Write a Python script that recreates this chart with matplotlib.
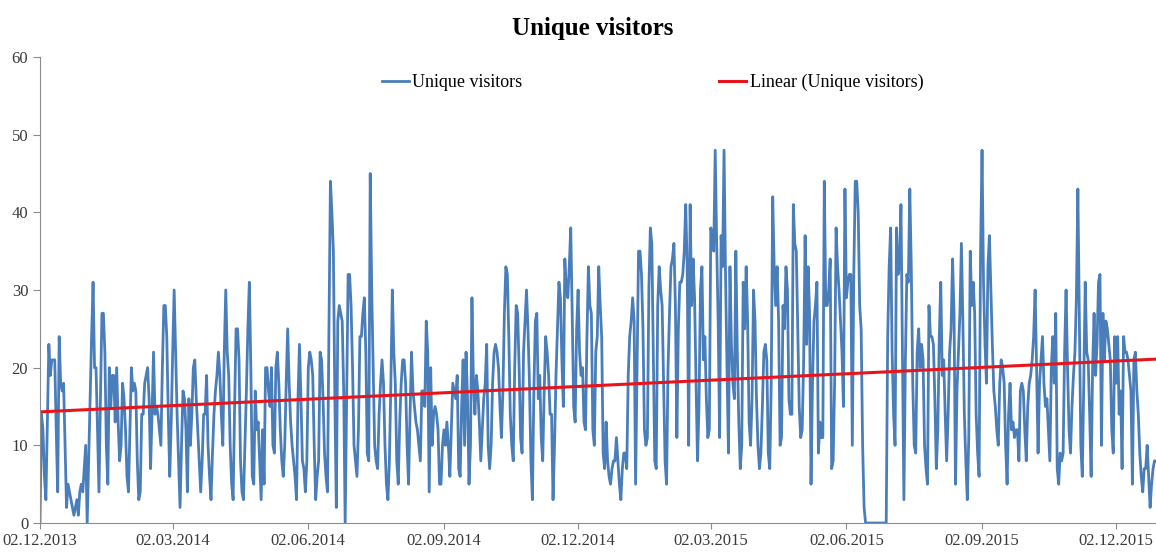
import numpy as np
import pandas as pd
import matplotlib
matplotlib.use("Agg")
import matplotlib.pyplot as plt
import matplotlib.dates as mdates

# daily unique visitors, starting 02.12.2013 (one row = one week)
start = "2013-12-02"
visitors = [
    0, 14, 12, 6, 3, 13, 23,
    19, 21, 21, 21, 12, 4, 24,
    18, 17, 18, 10, 2, 5, 4,
    3, 2, 1, 2, 3, 1, 4,
    5, 4, 7, 10, 0, 8, 16,
    24, 31, 20, 20, 12, 4, 16,
    27, 27, 22, 10, 5, 20, 15,
    19, 19, 13, 20, 13, 8, 10,
    18, 16, 12, 6, 4, 12, 20,
    17, 18, 17, 8, 3, 4, 14,
    14, 18, 19, 20, 16, 7, 14,
    22, 14, 15, 14, 12, 10, 20,
    28, 28, 24, 14, 6, 13, 22,
    30, 22, 14, 8, 2, 10, 17,
    16, 12, 4, 16, 10, 14, 20,
    21, 16, 12, 8, 4, 8, 14,
    14, 19, 10, 6, 3, 9, 14,
    17, 19, 22, 19, 14, 10, 22,
    30, 22, 19, 10, 5, 3, 15,
    25, 25, 21, 8, 4, 3, 10,
    17, 25, 31, 20, 6, 5, 17,
    12, 13, 8, 3, 12, 5, 20,
    20, 17, 15, 20, 10, 9, 20,
    22, 18, 12, 8, 6, 10, 18,
    25, 18, 13, 10, 8, 6, 3,
    16, 23, 16, 8, 7, 4, 8,
    20, 22, 21, 19, 10, 3, 6,
    8, 22, 21, 16, 9, 6, 4,
    25, 44, 40, 35, 16, 2, 26,
    28, 27, 26, 17, 0, 16, 32,
    32, 28, 20, 10, 8, 6, 12,
    24, 24, 27, 29, 22, 9, 8,
    45, 30, 20, 10, 8, 7, 14,
    18, 21, 18, 10, 5, 3, 8,
    18, 30, 22, 18, 8, 5, 13,
    18, 21, 21, 18, 10, 5, 14,
    22, 17, 15, 13, 12, 10, 8,
    17, 17, 15, 26, 22, 4, 20,
    10, 14, 15, 14, 12, 5, 5,
    10, 12, 10, 13, 10, 6, 12,
    18, 17, 16, 19, 7, 6, 15,
    21, 10, 22, 16, 5, 10, 29,
    18, 14, 19, 17, 13, 8, 12,
    16, 18, 23, 10, 7, 10, 18,
    22, 23, 22, 20, 15, 11, 17,
    27, 33, 32, 24, 14, 10, 8,
    20, 28, 27, 20, 11, 9, 22,
    26, 30, 25, 18, 8, 3, 17,
    26, 27, 16, 19, 11, 8, 17,
    24, 22, 19, 14, 14, 3, 10,
    19, 25, 31, 29, 21, 15, 34,
    30, 29, 33, 38, 27, 15, 13,
    25, 30, 22, 19, 20, 13, 12,
    24, 33, 28, 27, 12, 10, 22,
    24, 33, 28, 24, 9, 7, 13,
    8, 6, 5, 7, 8, 8, 11,
    8, 5, 3, 7, 9, 9, 7,
    19, 24, 26, 29, 26, 5, 20,
    35, 35, 32, 25, 12, 10, 11,
    30, 38, 36, 22, 8, 7, 28,
    33, 30, 28, 18, 8, 5, 20,
    27, 33, 34, 36, 28, 11, 25,
    31, 31, 32, 35, 41, 33, 10,
    41, 28, 34, 29, 18, 8, 15,
    30, 33, 21, 24, 16, 11, 12,
    38, 37, 35, 48, 36, 26, 11,
    37, 33, 48, 32, 20, 9, 33,
    23, 18, 16, 35, 22, 13, 7,
    10, 31, 25, 33, 26, 13, 10,
    16, 30, 26, 16, 10, 7, 9,
    15, 22, 23, 21, 9, 7, 18,
    42, 33, 28, 33, 26, 10, 11,
    28, 25, 33, 30, 16, 14, 14,
    41, 36, 35, 25, 15, 11, 12,
    21, 37, 23, 33, 27, 5, 18,
    26, 28, 31, 9, 13, 11, 11,
    44, 28, 28, 30, 34, 7, 8,
    18, 38, 33, 30, 26, 22, 15,
    43, 29, 31, 32, 32, 10, 32,
    44, 44, 40, 28, 25, 10, 2,
    0, 0, 0, 0, 0, 0, 0,
    0, 0, 0, 0, 0, 0, 0,
    0, 24, 33, 38, 22, 14, 10,
    38, 32, 33, 41, 22, 3, 21,
    32, 31, 43, 33, 18, 10, 9,
    22, 25, 20, 23, 21, 10, 7,
    5, 28, 24, 24, 23, 16, 7,
    12, 24, 31, 19, 21, 14, 8,
    14, 22, 25, 34, 27, 5, 17,
    22, 27, 36, 26, 14, 8, 3,
    11, 35, 28, 31, 27, 14, 9,
    6, 35, 48, 31, 23, 18, 33,
    37, 30, 23, 17, 15, 12, 10,
    18, 21, 20, 18, 10, 5, 14,
    18, 12, 13, 11, 12, 12, 8,
    17, 18, 17, 12, 8, 15, 18,
    19, 21, 24, 30, 20, 9, 18,
    21, 24, 18, 15, 16, 12, 8,
    20, 24, 18, 27, 7, 5, 9,
    8, 9, 22, 30, 20, 12, 9,
    15, 19, 22, 29, 43, 27, 10,
    6, 18, 31, 22, 21, 14, 6,
    20, 27, 19, 23, 31, 32, 10,
    27, 21, 26, 25, 23, 21, 12,
    9, 24, 18, 24, 14, 17, 7,
    24, 22, 22, 21, 19, 17, 5,
    21, 22, 17, 14, 9, 6, 4,
    7, 7, 10, 6, 2, 5, 7,
    8, 8,
]
tick_dates = ["2013-12-02", "2014-03-02", "2014-06-02", "2014-09-02", "2014-12-02",
              "2015-03-02", "2015-06-02", "2015-09-02", "2015-12-02"]

dates = pd.date_range(start, periods=len(visitors), freq="D")
y = np.array(visitors, dtype=float)

# linear trend like excel
xnum = mdates.date2num(dates)
k, b = np.polyfit(xnum, y, 1)
trend = k * xnum + b

plt.rcParams["font.family"] = ["Liberation Serif", "DejaVu Serif"]

fig = plt.figure(figsize=(11.56, 5.52), dpi=100)
ax = fig.add_axes([40 / 1156, 29 / 552, 1116 / 1156, 466 / 552])

ax.plot(dates, y, color="#4A7EBB", lw=2.0, label="Unique visitors")
ax.plot(dates, trend, color="#E8141B", lw=2.2, label="Linear (Unique visitors)")

ax.set_ylim(0, 60)
ax.set_yticks(range(0, 61, 10))
ax.set_xlim(dates[0], dates[-1])
ax.set_xticks(pd.to_datetime(tick_dates))
ax.xaxis.set_major_formatter(mdates.DateFormatter("%d.%m.%Y"))

for s in ["top", "right"]:
    ax.spines[s].set_visible(False)
for s in ["left", "bottom"]:
    ax.spines[s].set_color("#8C8C8C")
    ax.spines[s].set_linewidth(0.8)
ax.tick_params(axis="both", colors="#8C8C8C", labelcolor="#3A3A3A", labelsize=12,
               length=5, width=0.8)
ax.tick_params(axis="x", length=4, pad=3)

fig.text(0.5126, 0.948, "Unique visitors", ha="center", va="center",
         fontsize=18, fontweight="bold")
fig.legend(loc="center", bbox_to_anchor=(0.5645, 0.851), ncol=2, frameon=False,
           fontsize=13, handlelength=1.5, handletextpad=0.2, columnspacing=10.9)

fig.savefig("out.png", dpi=100)
